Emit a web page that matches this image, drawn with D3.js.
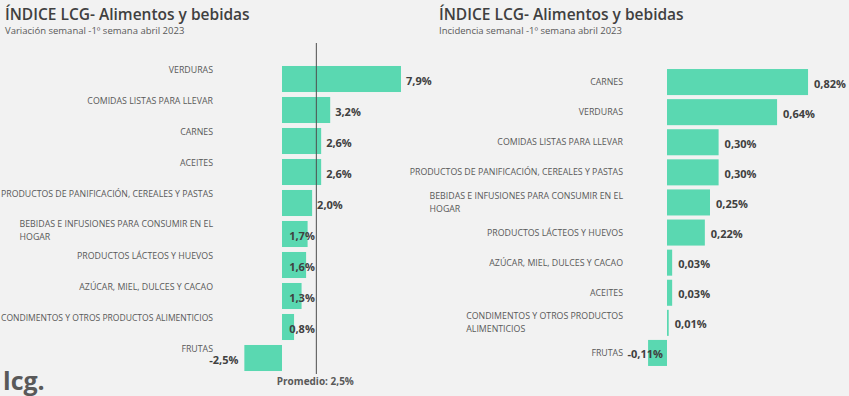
<!DOCTYPE html>
<html>
<head>
<meta charset="utf-8">
<script src="https://cdn.jsdelivr.net/npm/d3@7"></script>
<style>
  html, body { margin: 0; padding: 0; background: #f2f2f2; overflow: hidden; }
  svg { display: block; }
</style>
</head>
<body>
<svg id="chart" width="849" height="396"></svg>
<script>
// ---------- DATA ----------
const titleText = "ÍNDICE LCG- Alimentos y bebidas";
const leftSubtitle = "Variación semanal -1º semana abril 2023";
const rightSubtitle = "Incidencia semanal -1º semana abril 2023";

const leftCategories = [
  "VERDURAS",
  "COMIDAS LISTAS PARA LLEVAR",
  "CARNES",
  "ACEITES",
  "PRODUCTOS DE PANIFICACIÓN, CEREALES Y PASTAS",
  "BEBIDAS E INFUSIONES PARA CONSUMIR EN EL\nHOGAR",
  "PRODUCTOS LÁCTEOS Y HUEVOS",
  "AZÚCAR, MIEL, DULCES Y CACAO",
  "CONDIMENTOS Y OTROS PRODUCTOS ALIMENTICIOS",
  "FRUTAS"
];
const leftValues = [7.9, 3.2, 2.6, 2.6, 2.0, 1.7, 1.6, 1.3, 0.8, -2.5];
const averageLabel = "Promedio: 2,5%";
const averageLinePosition = 2.28; // where the reference line is drawn

const rightCategories = [
  "CARNES",
  "VERDURAS",
  "COMIDAS LISTAS PARA LLEVAR",
  "PRODUCTOS DE PANIFICACIÓN, CEREALES Y PASTAS",
  "BEBIDAS E INFUSIONES PARA CONSUMIR EN EL\nHOGAR",
  "PRODUCTOS LÁCTEOS Y HUEVOS",
  "AZÚCAR, MIEL, DULCES Y CACAO",
  "ACEITES",
  "CONDIMENTOS Y OTROS PRODUCTOS\nALIMENTICIOS",
  "FRUTAS"
];
const rightValues = [0.82, 0.64, 0.30, 0.30, 0.25, 0.22, 0.03, 0.03, 0.01, -0.11];

// ---------- STYLE ----------
const BAR = "#5ad8b1";
const DARK = "#404040";
const MID = "#595959";
const FONT = "'Open Sans', sans-serif";

const svg = d3.select("#chart");
svg.append("rect").attr("width", 849).attr("height", 396).attr("fill", "#f2f2f2");

const fmt1 = d => d3.format(".1f")(d).replace(".", ",").replace("−", "-") + "%";
const fmt2 = d => d3.format(".2f")(d).replace(".", ",").replace("−", "-") + "%";

function drawCategoryLabel(g, text, xRight, yFirst, lineGap) {
  const lines = text.split("\n");
  const t = g.append("text")
    .attr("font-family", FONT).attr("font-size", 8.8).attr("fill", MID);
  lines.forEach((ln, i) => {
    t.append("tspan").attr("y", yFirst + i * lineGap).attr("dominant-baseline", "central").text(ln);
  });
  // right-align the block, left-align lines within the block
  const w = d3.max(t.selectAll("tspan").nodes(), n => n.getComputedTextLength());
  const left = Math.max(1, xRight - w);
  t.selectAll("tspan").attr("x", left);
  if (xRight - w < 1) {
    t.selectAll("tspan").attr("textLength", xRight - left).attr("lengthAdjust", "spacingAndGlyphs");
  }
}

function titles(x0, sub) {
  svg.append("text").attr("x", x0).attr("y", 19.5)
    .attr("font-family", FONT).attr("font-weight", 600).attr("font-size", 15.5)
    .attr("fill", DARK).text(titleText);
  svg.append("text").attr("x", x0).attr("y", 33.5)
    .attr("font-family", FONT).attr("font-size", 9.5).attr("fill", MID).text(sub);
}

// ---------- LEFT CHART ----------
(function () {
  titles(5, leftSubtitle);
  const x = d3.scaleLinear().domain([-3, 8]).range([282 - 3 * 15.06, 282 + 8 * 15.06]);
  const y = d3.scaleBand().domain(d3.range(leftValues.length)).range([63.5, 373.5])
    .paddingInner(0.16).paddingOuter(0.08);
  const g = svg.append("g");
  const lineX = x(averageLinePosition);

  leftValues.forEach((v, i) => {
    g.append("rect")
      .attr("x", x(Math.min(0, v))).attr("y", y(i))
      .attr("width", Math.abs(x(v) - x(0))).attr("height", y.bandwidth())
      .attr("fill", BAR);
  });

  g.append("line").attr("x1", lineX).attr("x2", lineX).attr("y1", 43).attr("y2", 374)
    .attr("stroke", "#4d4d4d").attr("stroke-width", 1);

  leftValues.forEach((v, i) => {
    const cy = y(i) + y.bandwidth() / 2 + 1;
    const t = g.append("text").attr("y", cy).attr("dominant-baseline", "central")
      .attr("font-family", FONT).attr("font-weight", 700).attr("font-size", 11)
      .attr("fill", DARK).text(fmt1(v));
    if (v < 0) {
      t.attr("x", x(v) - 6).attr("text-anchor", "end");
    } else {
      const start = x(v) + 5;
      const w = t.node().getComputedTextLength();
      if (start < lineX && start + w > lineX) {
        t.attr("x", lineX - 1.5).attr("text-anchor", "end");
      } else {
        t.attr("x", start);
      }
    }
  });

  leftCategories.forEach((c, i) => {
    const cy = y(i) + y.bandwidth() / 2;
    const n = c.split("\n").length;
    drawCategoryLabel(g, c, 213, n > 1 ? cy - 10.5 : cy - 9, 13);
  });

  g.append("text").attr("x", lineX - 1).attr("y", 381).attr("dominant-baseline", "central")
    .attr("text-anchor", "middle")
    .attr("font-family", FONT).attr("font-weight", 700).attr("font-size", 10)
    .attr("fill", MID).text(averageLabel);
})();

// ---------- RIGHT CHART ----------
(function () {
  titles(439, rightSubtitle);
  const k = 172;
  const x = d3.scaleLinear().domain([-0.2, 1]).range([667 - 0.2 * k, 667 + k]);
  const y = d3.scaleBand().domain(d3.range(rightValues.length)).range([67, 368])
    .paddingInner(0.135).paddingOuter(0.0675);
  const g = svg.append("g");

  rightValues.forEach((v, i) => {
    g.append("rect")
      .attr("x", x(Math.min(0, v))).attr("y", y(i))
      .attr("width", Math.max(1, Math.abs(x(v) - x(0)))).attr("height", y.bandwidth())
      .attr("fill", BAR);
  });

  rightValues.forEach((v, i) => {
    const cy = y(i) + y.bandwidth() / 2 + 1;
    const t = g.append("text").attr("y", cy).attr("dominant-baseline", "central")
      .attr("font-family", FONT).attr("font-weight", 700).attr("font-size", 11)
      .attr("fill", DARK).text(fmt2(v));
    if (v < 0) t.attr("x", x(0) - 4).attr("text-anchor", "end");
    else t.attr("x", Math.max(x(v), x(0) + 1) + 6);
  });

  rightCategories.forEach((c, i) => {
    const cy = y(i) + y.bandwidth() / 2;
    const n = c.split("\n").length;
    drawCategoryLabel(g, c, 623, cy - (n - 1) * 6.5, 13);
  });
})();

// ---------- LOGO ----------
svg.append("text").attr("x", 3).attr("y", 389.5)
  .attr("font-family", FONT).attr("font-weight", 700).attr("font-size", 25)
  .attr("fill", MID).text("lcg.");
</script>
</body>
</html>
